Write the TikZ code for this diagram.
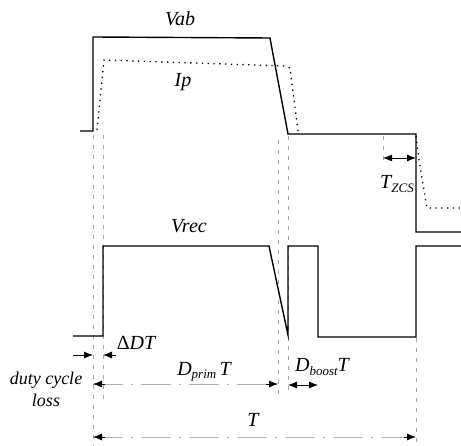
\documentclass[tikz,border=0pt]{standalone}
\usepackage{fontspec}
\setmainfont{Liberation Serif}
\usetikzlibrary{arrows.meta,calc}
\newcommand{\lowsub}[1]{\raisebox{-0.35ex}{\fontsize{13}{14}\selectfont #1}}
\tikzset{
  wave/.style={line width=1.4pt, line join=miter},
  ipwave/.style={line width=1.3pt, dash pattern=on 1.3pt off 4.5pt},
  guide/.style={gray!70, line width=0.7pt, dash pattern=on 4pt off 6pt},
  dimline/.style={gray!60, line width=0.8pt, dash pattern=on 30pt off 8pt on 2pt off 8pt},
  tip/.style={-{Latex[length=9pt,width=7pt]}, black, line width=0.8pt},
  lbl/.style={font=\fontsize{20}{22}\selectfont\itshape, inner sep=0pt},
  sublbl/.style={font=\fontsize{18}{22}\selectfont\itshape, inner sep=0pt, align=center}
}
\begin{document}
\begin{tikzpicture}[x=1pt,y=-1pt]
\useasboundingbox (0,0) rectangle (461,446);
% guide lines
\draw[guide] (93,135) -- (93,446);
\draw[guide] (103,135) -- (103,400);
\draw[guide] (278,140) -- (278,400);
\draw[guide] (288,136) -- (288,395);
\draw[guide] (383,136) -- (383,163);
\draw[guide] (416,338) -- (416,446);
% Vab
\draw[wave] (80,131) -- (93,131) -- (93,37) -- (270,38) -- (288,134) -- (416,134) -- (416,232) -- (461,232);
% Ip
\draw[ipwave] (97,130) -- (104,60) -- (284,66) -- (290,68) -- (298,131);
\draw[ipwave] (416,136) -- (419,160) -- (427,208) -- (461,208);
% Vrec
\draw[wave] (73,336) -- (103,336) -- (103,246) -- (269,246) -- (288,335) -- (288,246) -- (318,246) -- (318,337) -- (416,337) -- (416,246) -- (461,246);
% labels
\node[lbl] (vab) at (180,19) {Vab};
\node[lbl] (ip) at (183,82) {Ip};
\node[lbl] (vrec) at (189,226) {Vrec};
\node[lbl] (tzcs) at (397,184) {T\lowsub{ZCS}};
\node[lbl] (ddt) at (136,343) {\textup{Δ}DT};
\node[lbl] (dprim) at (204,372) {D\lowsub{prim}\,T};
\node[lbl] (dboost) at (322,367) {D\lowsub{boost}T};
\node[lbl] (tt) at (253,420) {T};
\node[sublbl] (loss) at (46,389) {duty cycle\\loss};
% dimension coordinates
\coordinate (zl) at (383,158);
\coordinate (zr) at (416,158);
\coordinate (zm) at (399,158);
\coordinate (a1) at (73,355);
\coordinate (a2) at (93,355);
\coordinate (a3) at (116,355);
\coordinate (a4) at (103,355);
\coordinate (p1) at (93,384);
\coordinate (p2) at (278,384);
\coordinate (b1) at (288,385);
\coordinate (b2) at (318,385);
\coordinate (t1) at (93,437);
\coordinate (t2) at (416,437);
% T_ZCS
\draw[tip] (zm) -- (zl);
\draw[tip] (zm) -- (zr);
% Delta DT
\draw[tip] (a1) -- (a2);
\draw[tip] (a3) -- (a4);
% D_prim T
\draw[dimline] (p1) -- (p2);
\draw[tip] ($(p1)+(12,0)$) -- (p1);
\draw[tip] ($(p2)+(-12,0)$) -- (p2);
% D_boost T
\draw[tip] ($(b1)!0.5!(b2)$) -- (b1);
\draw[tip] ($(b1)!0.5!(b2)$) -- (b2);
% T
\draw[dimline] (t1) -- (t2);
\draw[tip] ($(t1)+(12,0)$) -- (t1);
\draw[tip] ($(t2)+(-12,0)$) -- (t2);
\end{tikzpicture}
\end{document}
